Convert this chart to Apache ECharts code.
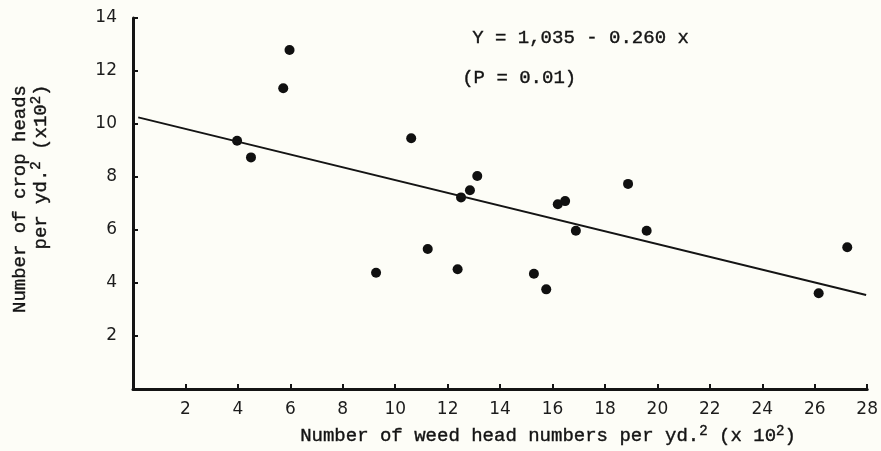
<!DOCTYPE html>
<html>
<head>
<meta charset="utf-8">
<script src="https://cdn.jsdelivr.net/npm/echarts@6/dist/echarts.min.js"></script>
<style>
html,body{margin:0;padding:0;background:#fdfdf7;}
#chart{width:881px;height:451px;}
</style>
</head>
<body>
<div id="chart"></div>
<script>
// Weed head numbers (x 10^2 per yd^2)
const weedHeads = [5.97, 5.73, 3.97, 4.50, 10.61, 13.13, 12.85, 12.51, 9.27, 11.24, 12.38,
  16.20, 16.48, 16.89, 18.88, 19.59, 15.29, 15.76, 26.15, 27.24];
// Crop heads (x 10^2 per yd^2)
const cropHeads = [12.79, 11.35, 9.37, 8.74, 9.46, 8.04, 7.50, 7.23, 4.39, 5.28, 4.52,
  6.97, 7.09, 5.97, 7.74, 5.97, 4.35, 3.76, 3.61, 5.35];
// Regression line end points
const fitX = [0.2, 27.96];
const fitY = [10.25, 3.55];
const xTicks = [2, 4, 6, 8, 10, 12, 14, 16, 18, 20, 22, 24, 26, 28];
const yTicks = [2, 4, 6, 8, 10, 12, 14];
const equationText = 'Y = 1,035 - 0.260 x';
const pText = '(P = 0.01)';

const ink = '#141414';
const mono = '"Liberation Mono", "DejaVu Sans Mono", monospace';

const chart = echarts.init(document.getElementById('chart'), null, {renderer: 'canvas'});
const scatterData = weedHeads.map((x, i) => [x, cropHeads[i]]);
const lineData = fitX.map((x, i) => [x, fitY[i]]);

chart.setOption({
  backgroundColor: '#fdfdf7',
  animation: false,
  grid: {left: 133, right: 10, top: 18, bottom: 62},
  xAxis: {
    type: 'value', min: 0, max: 28, interval: 2,
    axisLine: {show: true, lineStyle: {color: ink, width: 3}},
    axisTick: {show: true, inside: true, length: 5, lineStyle: {color: ink, width: 2}},
    splitLine: {show: false},
    axisLabel: {
      margin: 12, color: '#1c1c1c', fontFamily: '"DejaVu Sans", sans-serif', fontSize: 17,
      formatter: v => xTicks.includes(v) ? String(v) : ''
    }
  },
  yAxis: {
    type: 'value', min: 0, max: 14, interval: 2,
    axisLine: {show: true, lineStyle: {color: ink, width: 3}},
    axisTick: {show: true, inside: true, length: 5, lineStyle: {color: ink, width: 2}},
    splitLine: {show: false},
    axisLabel: {
      margin: 16, color: '#1c1c1c', fontFamily: '"DejaVu Sans", sans-serif', fontSize: 17,
      formatter: v => yTicks.includes(v) ? String(v) : ''
    }
  },
  series: [
    {
      type: 'line', data: lineData, symbol: 'none', silent: true,
      lineStyle: {color: ink, width: 2}
    },
    {
      type: 'scatter', data: scatterData, symbol: 'circle', symbolSize: 10,
      itemStyle: {color: '#101010', opacity: 1}
    }
  ],
  graphic: [
    {
      type: 'text', left: 472, top: 28,
      style: {text: equationText, font: '19px ' + mono, fill: ink, stroke: ink, lineWidth: 0.4}
    },
    {
      type: 'text', left: 462, top: 68,
      style: {text: pText, font: '19px ' + mono, fill: ink, stroke: ink, lineWidth: 0.4}
    },
    {
      type: 'text', x: 548, y: 436,
      style: {
        text: 'Number of weed head numbers per yd.{s|2} (x 10{s|2})',
        font: '19px ' + mono, fill: ink, stroke: ink, lineWidth: 0.4,
        align: 'center', verticalAlign: 'middle',
        rich: {s: {font: '14px ' + mono, fill: ink, verticalAlign: 'top', padding: [0, 0, 10, 0]}}
      }
    },
    {
      type: 'text', x: 20, y: 199, rotation: Math.PI / 2,
      style: {
        text: 'Number of crop heads',
        font: '19px ' + mono, fill: ink, stroke: ink, lineWidth: 0.4,
        align: 'center', verticalAlign: 'middle'
      }
    },
    {
      type: 'text', x: 41, y: 167, rotation: Math.PI / 2,
      style: {
        text: 'per yd.{s|2} (x10{s|2})',
        font: '19px ' + mono, fill: ink, stroke: ink, lineWidth: 0.4,
        align: 'center', verticalAlign: 'middle',
        rich: {s: {font: '14px ' + mono, fill: ink, verticalAlign: 'top', padding: [0, 0, 10, 0]}}
      }
    }
  ]
});
</script>
</body>
</html>
